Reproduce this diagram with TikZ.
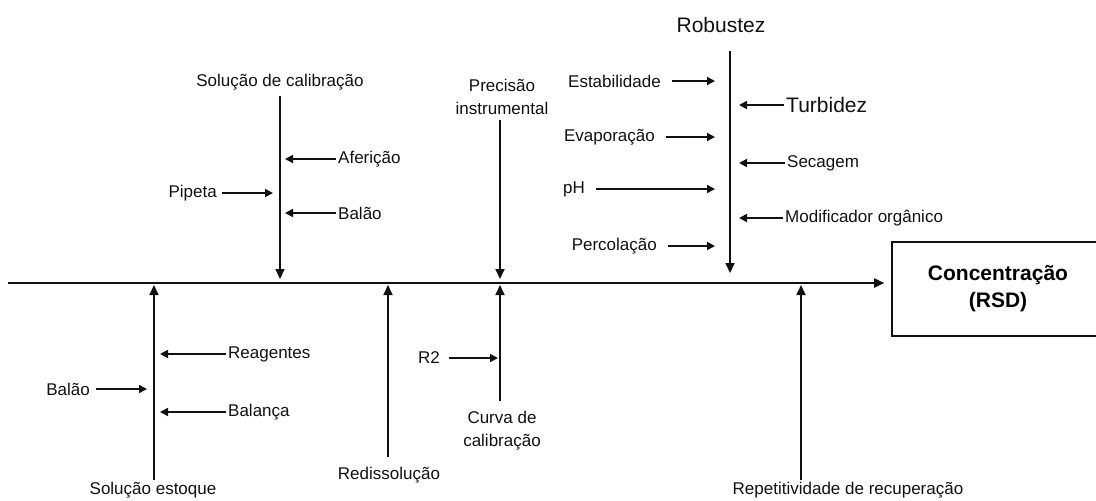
\documentclass[tikz,border=0pt]{standalone}
\usepackage{fontspec}
\setmainfont{Liberation Sans}
\usetikzlibrary{arrows.meta,positioning,calc}
\definecolor{ink}{HTML}{111111}

\begin{document}
\begin{tikzpicture}[x=1pt,y=-1pt,
  label/.style={font=\fontsize{17}{23}\selectfont,text=ink,inner sep=2pt,align=center},
  biglabel/.style={font=\fontsize{21}{25}\selectfont,text=ink,inner sep=2pt},
  effect/.style={draw=ink,line width=1.6pt,minimum width=212pt,minimum height=94pt,
    align=center,font=\fontsize{21}{27}\bfseries\selectfont,inner sep=0pt},
  spine/.style={draw=ink,line width=1.8pt,-{Triangle[length=10pt,width=9pt]}},
  branch/.style={draw=ink,line width=1.7pt,-{Triangle[length=10pt,width=9pt]}},
  cause/.style={draw=ink,line width=1.7pt,-{Triangle[length=8pt,width=8pt]}}
]
\useasboundingbox (0,0) rectangle (1096,501);
\clip (0,0) rectangle (1096,501);
\node[effect] (eff) at (998,289) {Concentração\\(RSD)};
\coordinate (tail) at (8,283);
\draw[spine,shorten >=7pt] (tail) -- (tail -| eff.west);
\coordinate (calin) at (280,283);
\coordinate (precin) at (500,283);
\coordinate (robin) at (730,283);
\coordinate (estin) at (154,283);
\coordinate (redin) at (388,283);
\coordinate (curin) at (500,283);
\coordinate (repin) at (801,283);
\node[label] (solcal) at (280,82) {Solução de calibração};
\draw[branch,shorten <=4pt,shorten >=4pt] (solcal.south -| calin) -- (calin);
\node[label,anchor=west] (afer) at (336,159) {Aferição};
\node[label,anchor=west] (balc) at (336,213) {Balão};
\node[label,anchor=east] (pip) at (219,193) {Pipeta};
\foreach \x in {afer,balc}
  \draw[cause,shorten >=5pt] (\x.west) -- (\x.west -| calin);
\draw[cause,shorten <=3pt,shorten >=7pt] (pip.east) -- (pip.east -| calin);
\node[label] (prec) at (502,97) {Precisão\\instrumental};
\draw[branch,shorten <=3pt,shorten >=4pt] (prec.south -| precin) -- (precin);
\node[biglabel] (rob) at (721,25) {Robustez};
\draw[branch,shorten <=16pt,shorten >=10pt] (rob.south -| robin) -- (robin);
\foreach \n/\t/\x/\y in {stab/Estabilidade/663/81,evap/Evaporação/657/137,
    ph/pH/587/189,perc/Percolação/659/246}{
  \node[label,anchor=east] (\n) at (\x,\y) {\t};
  \draw[cause,shorten <=9pt,shorten >=15pt] (\n.east) -- (\n.east -| robin);
}
\node[biglabel,anchor=west] (turb) at (784,105) {Turbidez};
\node[label,anchor=west] (sec) at (785,163) {Secagem};
\node[label,anchor=west] (mod) at (783,218) {Modificador orgânico};
\foreach \x in {turb,sec,mod}
  \draw[cause,shorten >=9pt] (\x.west) -- (\x.west -| robin);
\node[label] (solest) at (153,490) {Solução estoque};
\draw[branch,shorten >=2pt] (solest.north -| estin) -- (estin);
\node[label,anchor=west] (reag) at (226,354) {Reagentes};
\node[label,anchor=west] (bala) at (226,412) {Balança};
\node[label,anchor=east] (balo) at (92,389) {Balão};
\foreach \x in {reag,bala}
  \draw[cause,shorten >=6pt] (\x.west) -- (\x.west -| estin);
\draw[cause,shorten <=4pt,shorten >=7pt] (balo.east) -- (balo.east -| estin);
\node[label] (redis) at (389,475) {Redissolução};
\draw[branch,shorten <=8pt,shorten >=2pt] (redis.north -| redin) -- (redin);
\node[label] (curva) at (502,431) {Curva de\\calibração};
\draw[branch,shorten <=8pt,shorten >=2pt] (curva.north -| curin) -- (curin);
\node[label,anchor=east] (rdois) at (442,358) {R2};
\draw[cause,shorten <=7pt,shorten >=2pt] (rdois.east) -- (rdois.east -| curin);
\node[label] (rep) at (848,490) {Repetitividade de recuperação};
\draw[branch,shorten >=2pt] (rep.north -| repin) -- (repin);
\end{tikzpicture}
\end{document}
